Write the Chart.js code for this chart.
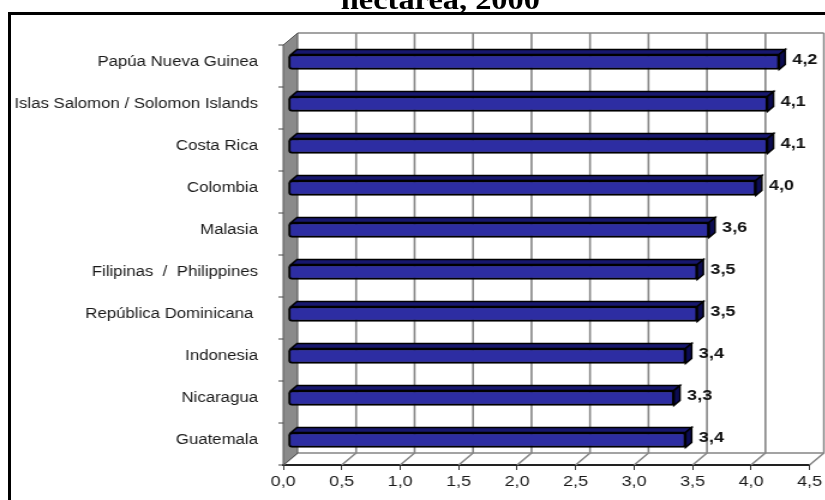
<!DOCTYPE html>
<html>
<head>
<meta charset="utf-8">
<script src="https://cdn.jsdelivr.net/npm/chart.js@4.4.0/dist/chart.umd.min.js"></script>
<style>
  html, body { margin: 0; padding: 0; background: #fff; overflow: hidden; }
  #marco { position: absolute; left: 8px; top: 12px; width: 900px; height: 600px;
           border-top: 3px solid #000; border-left: 3px solid #000; }
  /* el gráfico se dibuja a 688 px y se estira a lo ancho */
  #lienzo { position: absolute; left: 0; top: 0; width: 688px; height: 500px;
            transform: scaleX(1.2); transform-origin: 0 0; }
  #titulo { position: absolute; left: 0; top: -13px; width: 734px; text-align: center;
            font-family: "Liberation Serif", "Times New Roman", serif; font-weight: bold;
            font-size: 27px; line-height: 27px; color: #000; }
</style>
</head>
<body>
<div id="marco"></div>
<div id="lienzo">
  <div id="titulo">hectarea, 2000</div>
  <canvas id="rendimientoChart"></canvas>
</div>
<script>
// Datos
const paises = ['Papúa Nueva Guinea', 'Islas Salomon / Solomon Islands', 'Costa Rica', 'Colombia', 'Malasia',
                'Filipinas  /  Philippines', 'República Dominicana ', 'Indonesia', 'Nicaragua', 'Guatemala'];
const rendimiento = [4.2, 4.1, 4.1, 4.0, 3.6, 3.5, 3.5, 3.4, 3.3, 3.4];
const etiquetasX = ['0,0', '0,5', '1,0', '1,5', '2,0', '2,5', '3,0', '3,5', '4,0', '4,5'];

// Efecto 3D
const PROF_X = 12, PROF_Y = 12;  // fondo de la caja
const DESP_X = 4, DESP_Y = -4;   // plano de las barras
const CARA = 5;                  // grosor de la cara superior y lateral de cada barra

const fmt = v => v.toFixed(1).replace('.', ',');

const caja3d = {
    id: 'caja3d',
    beforeDatasetsDraw(chart) {
        const { ctx, chartArea: a, scales: { x } } = chart;
        ctx.save();
        // suelo y pared del fondo
        ctx.strokeStyle = '#858585';
        ctx.lineWidth = 1.6;
        x.ticks.forEach(t => {
            const px = x.getPixelForValue(t.value);
            ctx.beginPath();
            ctx.moveTo(px, a.bottom);
            ctx.lineTo(px + PROF_X, a.bottom - PROF_Y);
            if (t.value > 0) ctx.lineTo(px + PROF_X, a.top - PROF_Y);
            ctx.stroke();
        });
        ctx.beginPath();
        ctx.moveTo(a.left + PROF_X, a.top - PROF_Y);
        ctx.lineTo(a.right + PROF_X, a.top - PROF_Y);
        ctx.moveTo(a.left + PROF_X, a.bottom - PROF_Y);
        ctx.lineTo(a.right + PROF_X, a.bottom - PROF_Y);
        ctx.stroke();

        // pared izquierda
        ctx.beginPath();
        ctx.moveTo(a.left, a.top);
        ctx.lineTo(a.left + PROF_X, a.top - PROF_Y);
        ctx.lineTo(a.left + PROF_X, a.bottom - PROF_Y);
        ctx.lineTo(a.left, a.bottom);
        ctx.closePath();
        ctx.fillStyle = '#8a8a8a';
        ctx.fill();
        ctx.strokeStyle = '#555';
        ctx.lineWidth = 1;
        ctx.stroke();

        // marcas entre categorías
        const paso = (a.bottom - a.top) / paises.length;
        ctx.strokeStyle = '#444';
        for (let i = 0; i <= paises.length; i++) {
            const py = a.top + i * paso;
            ctx.beginPath();
            ctx.moveTo(a.left - 4, py);
            ctx.lineTo(a.left, py);
            ctx.stroke();
        }
        ctx.restore();

        ctx.save();
        ctx.translate(DESP_X, DESP_Y);
    },
    afterDatasetsDraw(chart) {
        const { ctx } = chart;
        const barras = chart.getDatasetMeta(0).data;
        // caras superior y lateral
        ctx.lineWidth = 1.5;
        ctx.strokeStyle = '#000';
        barras.forEach(b => {
            const arriba = b.y - b.height / 2, abajo = b.y + b.height / 2;
            ctx.beginPath();
            ctx.moveTo(b.base + 2, arriba);
            ctx.lineTo(b.base + 2 + CARA, arriba - CARA);
            ctx.lineTo(b.x + CARA, arriba - CARA);
            ctx.lineTo(b.x, arriba);
            ctx.closePath();
            ctx.fillStyle = '#17176e';
            ctx.fill();
            ctx.stroke();
            ctx.beginPath();
            ctx.moveTo(b.x, arriba);
            ctx.lineTo(b.x + CARA, arriba - CARA);
            ctx.lineTo(b.x + CARA, abajo - CARA);
            ctx.lineTo(b.x, abajo);
            ctx.closePath();
            ctx.fillStyle = '#0c0c52';
            ctx.fill();
            ctx.stroke();
        });
        ctx.restore();

        // valores
        ctx.save();
        ctx.font = 'bold 15px "Liberation Sans"';
        ctx.fillStyle = '#111';
        ctx.textBaseline = 'middle';
        barras.forEach((b, i) => {
            ctx.fillText(fmt(rendimiento[i]), b.x + DESP_X + CARA + 6, b.y + DESP_Y - 2);
        });
        ctx.restore();
    }
};

const ctx = document.getElementById('rendimientoChart');
ctx.chart = new Chart(ctx, {
    type: 'bar',
    data: {
        labels: paises,
        datasets: [{
            data: rendimiento,
            backgroundColor: '#2d2da2',
            borderColor: '#000',
            borderWidth: 2,
            borderSkipped: false,
            borderRadius: { topLeft: 3, bottomLeft: 3, topRight: 0, bottomRight: 0 },
            barThickness: 15
        }]
    },
    options: {
        indexAxis: 'y',
        responsive: true,
        maintainAspectRatio: false,
        animation: false,
        layout: { padding: { top: 45, right: 12, left: 0, bottom: 0 } },
        scales: {
            x: {
                min: 0,
                max: 4.5,
                afterFit: s => { s.height = 35; },
                ticks: {
                    stepSize: 0.5,
                    padding: 3,
                    color: '#1a1a1a',
                    font: { family: 'Liberation Sans', size: 15 },
                    callback: (v, i) => etiquetasX[i]
                },
                grid: { drawOnChartArea: false, drawTicks: true, tickLength: 5, color: '#333' },
                border: { display: true, color: '#222', width: 2 }
            },
            y: {
                afterFit: s => { s.width = 236; },
                ticks: {
                    padding: 13,
                    labelOffset: -4,
                    color: '#1a1a1a',
                    font: { family: 'Liberation Sans', size: 14 }
                },
                grid: { display: false },
                border: { display: false }
            }
        },
        plugins: {
            legend: { display: false },
            tooltip: { enabled: false }
        }
    },
    plugins: [caja3d]
});
</script>
</body>
</html>
